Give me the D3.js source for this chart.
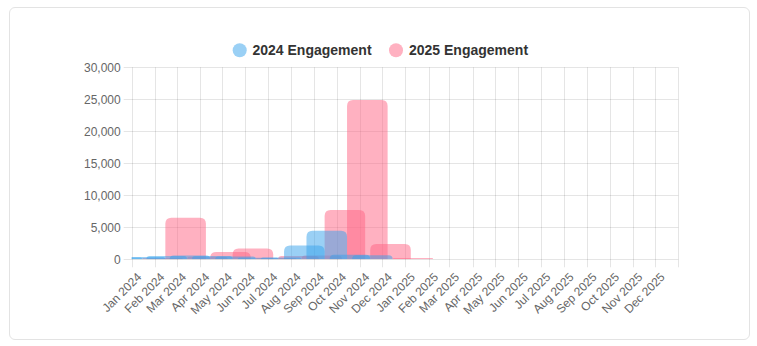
<!DOCTYPE html>
<html>
<head>
<meta charset="utf-8">
<script src="https://cdn.jsdelivr.net/npm/d3@7/dist/d3.min.js"></script>
<style>
  html, body { margin: 0; padding: 0; background: #ffffff; }
  body { width: 757px; height: 346px; overflow: hidden; font-family: "Liberation Sans", Arial, Helvetica, sans-serif; }
  .card { position: absolute; left: 9px; top: 7px; width: 741px; height: 333px; border: 1px solid #e3e3e3; border-radius: 6px; background: #fff; box-sizing: border-box; }
  svg { position: absolute; left: 0; top: 0; }
</style>
</head>
<body>
<div class="card"></div>
<svg id="chart" width="757" height="346"></svg>
<script>
// Monthly engagement, one point on the 15th of each month of 2024
const months = ["2024-01-15", "2024-02-15", "2024-03-15", "2024-04-15", "2024-05-15", "2024-06-15",
                "2024-07-15", "2024-08-15", "2024-09-15", "2024-10-15", "2024-11-15", "2024-12-15"];
const engagement2024 = [300, 350, 500, 600, 500, 450, 250, 300, 2150, 4450, 700, 650];
const engagement2025 = [200, 6500, 400, 1150, 1700, 200, 500, 600, 7700, 24900, 2400, 200];
const seriesNames = ["2024 Engagement", "2025 Engagement"];
const seriesColors = ["rgba(54,162,235,0.5)", "rgba(255,99,132,0.5)"];
const yTicks = [0, 5000, 10000, 15000, 20000, 25000, 30000];
const axisStart = "2024-01-01", axisEnd = "2026-01-01";

const parse = d3.utcParse("%Y-%m-%d");
const svg = d3.select("#chart");
const area = { left: 131.7, right: 678.3, top: 67.3, bottom: 259.3 };

const x = d3.scaleUtc().domain([parse(axisStart), parse(axisEnd)]).range([area.left, area.right]);
const y = d3.scaleLinear().domain([0, 30000]).range([area.bottom, area.top]);

const gridColor = "rgba(0,0,0,0.1)";
const monthTicks = d3.utcMonth.range(parse(axisStart), d3.utcDay.offset(parse(axisEnd), 1));

// grid
const grid = svg.append("g");
grid.selectAll("line.v").data(monthTicks).join("line")
  .attr("x1", d => Math.round(x(d)) + 0.5).attr("x2", d => Math.round(x(d)) + 0.5)
  .attr("y1", area.top).attr("y2", area.bottom + 8)
  .attr("stroke", gridColor).attr("stroke-width", 1);
grid.selectAll("line.h").data(yTicks).join("line")
  .attr("x1", area.left - 8).attr("x2", area.right)
  .attr("y1", d => Math.round(y(d)) + 0.5).attr("y2", d => Math.round(y(d)) + 0.5)
  .attr("stroke", gridColor).attr("stroke-width", 1);

// y labels
const fmt = d3.format(",");
svg.append("g").selectAll("text").data(yTicks).join("text")
  .attr("x", area.left - 11).attr("y", d => y(d)).attr("dy", "0.35em")
  .attr("text-anchor", "end").attr("font-size", 12).attr("fill", "#666")
  .text(d => fmt(d));

// x labels (rotated)
const monthFmt = d3.utcFormat("%b %Y");
const labelTicks = monthTicks.filter(d => d < parse(axisEnd));
svg.append("g").selectAll("text").data(labelTicks).join("text")
  .attr("transform", d => `translate(${x(d) + 7.5},${area.bottom + 15.5}) rotate(-45)`)
  .attr("dy", "0.35em").attr("text-anchor", "end")
  .attr("font-size", 12).attr("fill", "#666")
  .text(d => monthFmt(d));

// bars: each month is a group, 2024 series on the left half, 2025 on the right half
svg.append("clipPath").attr("id", "plot-clip").append("rect")
  .attr("x", area.left).attr("y", area.top - 2)
  .attr("width", area.right - area.left).attr("height", area.bottom - area.top + 2);

const step = x(parse(months[1])) - x(parse(months[0]));
const barW = step * 1.75;
const radius = 6;

function barPath(x0, w, yTop, yBase) {
  const h = yBase - yTop;
  const r = Math.min(radius, w / 2, h);
  return `M${x0},${yBase} V${yTop + r} Q${x0},${yTop} ${x0 + r},${yTop} H${x0 + w - r} Q${x0 + w},${yTop} ${x0 + w},${yTop + r} V${yBase} Z`;
}

// later series are painted first so the first series sits on top
const bars = svg.append("g").attr("clip-path", "url(#plot-clip)");
const seriesValues = [engagement2024, engagement2025];
[1, 0].forEach(si => {
  bars.append("g").selectAll("path").data(seriesValues[si]).join("path")
    .attr("d", (v, i) => {
      const c = x(parse(months[i]));
      const x0 = si === 0 ? c - barW : c;
      return barPath(x0, barW, y(v), y(0));
    })
    .attr("fill", seriesColors[si]);
});

// legend
const legend = svg.append("g");
const legendItems = [{ cx: 239.7, tx: 252.5 }, { cx: 396, tx: 409 }];
legendItems.forEach((it, i) => {
  legend.append("circle").attr("cx", it.cx).attr("cy", 50.2).attr("r", 7)
    .attr("fill", seriesColors[i]);
  legend.append("text").attr("x", it.tx).attr("y", 50.2).attr("dy", "0.35em")
    .attr("font-size", 14).attr("font-weight", "bold").attr("fill", "#333")
    .text(seriesNames[i]);
});
</script>
</body>
</html>
